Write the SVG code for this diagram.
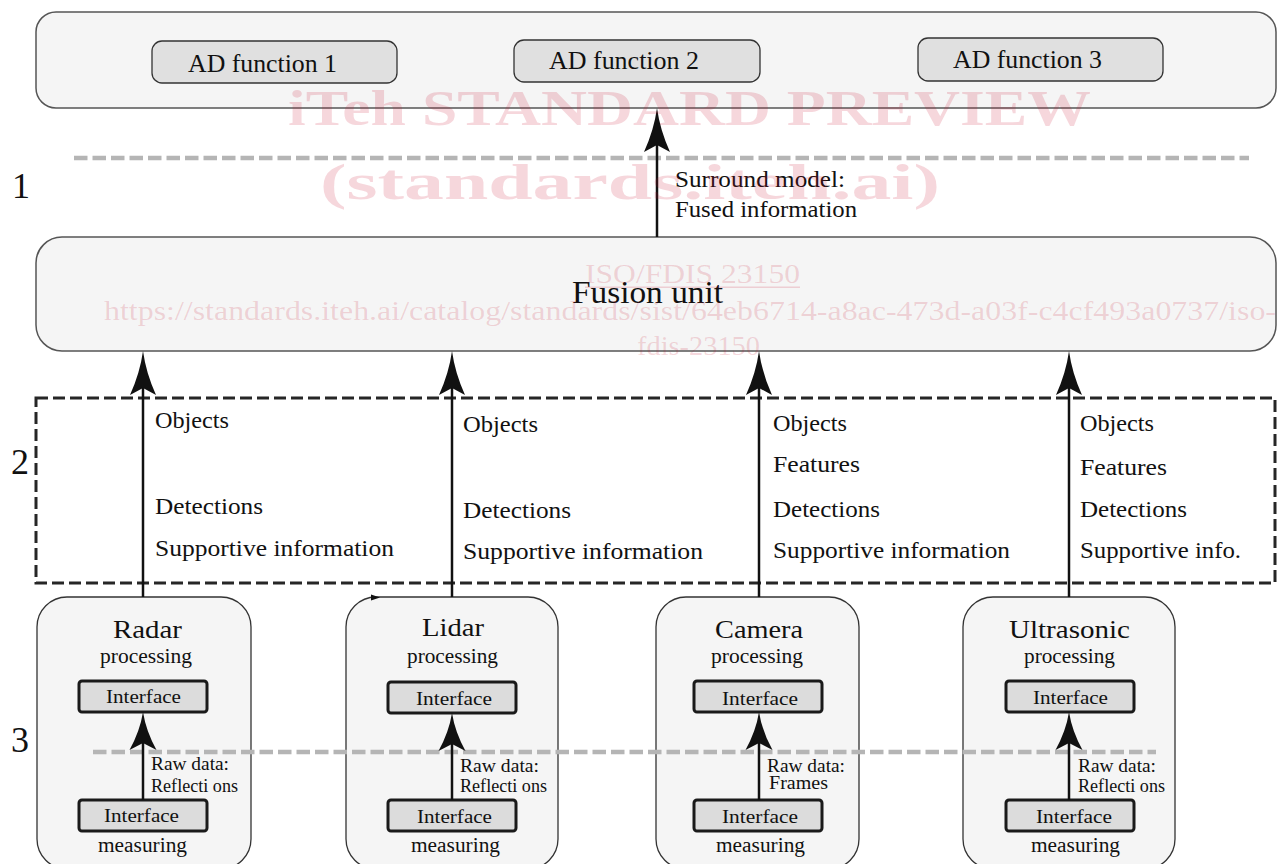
<svg xmlns="http://www.w3.org/2000/svg" xmlns:xlink="http://www.w3.org/1999/xlink" width="1278" height="864" viewBox="0 0 1278 864">
<style>
text{font-family:"Liberation Serif","Times New Roman",serif;fill:#111}
.big{fill:#f5f5f5;stroke:#555;stroke-width:1.5}
.adbox{fill:#e0e0e0;stroke:#333;stroke-width:1.3}
.sensor{fill:#f5f5f5;stroke:#333;stroke-width:1.3}
.ifc{fill:#dcdcdc;stroke:#1a1a1a;stroke-width:3}
.gdash{stroke:#b5b5b5;stroke-width:4.5;stroke-dasharray:13.5 5;fill:none}
.kdash{stroke:#262626;stroke-width:3;stroke-dasharray:12 5;fill:none}
.conn{stroke:#111;stroke-width:2.5;fill:none}
.ah{fill:#111}
.t26{font-size:26px}
.t24{font-size:24px}
.t23{font-size:23px}
.t20{font-size:20px}
.t19{font-size:19px}
.t18{font-size:18px}
.num{font-size:36px}
.wm{font-family:"Liberation Serif","Times New Roman",serif;fill:#c8102e;fill-opacity:0.17}
</style>
<defs>
<path id="ahL" class="ah" d="M0,0 Q-3,22 -13,44 L0,37 L13,44 Q3,22 0,0Z"/>
<path id="ahS" class="ah" d="M0,0 Q-3,19 -13.5,38 L0,31 L13.5,38 Q3,19 0,0Z"/>
</defs>
<rect width="1278" height="864" fill="#fff"/>

<g id="layer-lines">
<line class="gdash" x1="74" y1="158" x2="1249" y2="158"/>
<rect class="kdash" x="36" y="398" width="1239" height="185"/>
<text class="num" x="12" y="198">1</text>
<text class="num" x="11" y="474">2</text>
<text class="num" x="11" y="752">3</text>
</g>

<g id="ad-layer">
<rect class="big" x="36" y="12" width="1240" height="96" rx="20"/>
<g id="ad1"><rect class="adbox" x="152" y="41" width="245" height="42" rx="10"/><text class="t26" x="188" y="72" textLength="149" lengthAdjust="spacingAndGlyphs">AD function 1</text></g>
<g id="ad2"><rect class="adbox" x="514" y="40" width="246" height="42" rx="10"/><text class="t26" x="549" y="69" textLength="150" lengthAdjust="spacingAndGlyphs">AD function 2</text></g>
<g id="ad3"><rect class="adbox" x="918" y="38" width="245" height="43" rx="10"/><text class="t26" x="953" y="68" textLength="149" lengthAdjust="spacingAndGlyphs">AD function 3</text></g>
</g>

<g id="fusion">
<rect class="big" x="36" y="237" width="1240" height="114" rx="26"/>
<text x="572" y="303" font-size="32" textLength="151" lengthAdjust="spacingAndGlyphs">Fusion unit</text>
</g>

<g id="radar">
<rect class="sensor" x="37" y="597" width="214" height="272" rx="30"/>
<text class="t26" x="113" y="638" textLength="69" lengthAdjust="spacingAndGlyphs">Radar</text>
<text class="t20" x="100" y="663" textLength="92" lengthAdjust="spacingAndGlyphs">processing</text>
<rect class="ifc" x="79" y="681" width="128" height="31" rx="3"/>
<text class="t19" x="106" y="703" textLength="75" lengthAdjust="spacingAndGlyphs">Interface</text>
<rect class="ifc" x="79" y="800" width="128" height="31" rx="3"/>
<text class="t19" x="104" y="822" textLength="75" lengthAdjust="spacingAndGlyphs">Interface</text>
<text class="t20" x="98" y="852" textLength="89" lengthAdjust="spacingAndGlyphs">measuring</text>
</g>

<g id="lidar">
<rect class="sensor" x="346" y="597" width="212" height="272" rx="30"/>
<text class="t26" x="422" y="636" textLength="62" lengthAdjust="spacingAndGlyphs">Lidar</text>
<text class="t20" x="407" y="663" textLength="91" lengthAdjust="spacingAndGlyphs">processing</text>
<rect class="ifc" x="388" y="682" width="128" height="31" rx="3"/>
<text class="t19" x="416" y="705" textLength="76" lengthAdjust="spacingAndGlyphs">Interface</text>
<rect class="ifc" x="388" y="800" width="128" height="31" rx="3"/>
<text class="t19" x="417" y="823" textLength="75" lengthAdjust="spacingAndGlyphs">Interface</text>
<text class="t20" x="411" y="852" textLength="89" lengthAdjust="spacingAndGlyphs">measuring</text>
</g>

<g id="camera">
<rect class="sensor" x="656" y="597" width="203" height="272" rx="30"/>
<text class="t26" x="715" y="638" textLength="88" lengthAdjust="spacingAndGlyphs">Camera</text>
<text class="t20" x="711" y="663" textLength="92" lengthAdjust="spacingAndGlyphs">processing</text>
<rect class="ifc" x="694" y="681" width="128" height="31" rx="3"/>
<text class="t19" x="722" y="705" textLength="76" lengthAdjust="spacingAndGlyphs">Interface</text>
<rect class="ifc" x="694" y="800" width="128" height="31" rx="3"/>
<text class="t19" x="722" y="823" textLength="76" lengthAdjust="spacingAndGlyphs">Interface</text>
<text class="t20" x="716" y="852" textLength="89" lengthAdjust="spacingAndGlyphs">measuring</text>
</g>

<g id="ultrasonic">
<rect class="sensor" x="963" y="597" width="212" height="272" rx="30"/>
<text class="t26" x="1009" y="638" textLength="121" lengthAdjust="spacingAndGlyphs">Ultrasonic</text>
<text class="t20" x="1024" y="663" textLength="91" lengthAdjust="spacingAndGlyphs">processing</text>
<rect class="ifc" x="1006" y="681" width="128" height="31" rx="3"/>
<text class="t19" x="1033" y="704" textLength="75" lengthAdjust="spacingAndGlyphs">Interface</text>
<rect class="ifc" x="1006" y="800" width="128" height="31" rx="3"/>
<text class="t19" x="1036" y="823" textLength="76" lengthAdjust="spacingAndGlyphs">Interface</text>
<text class="t20" x="1031" y="852" textLength="89" lengthAdjust="spacingAndGlyphs">measuring</text>
</g>

<g id="connectors">
<line class="gdash" x1="93" y1="752" x2="1156" y2="752"/>
<line class="conn" x1="657" y1="237" x2="657" y2="140"/>
<use xlink:href="#ahL" href="#ahL" transform="translate(657,108)"/>
<line class="conn" x1="143" y1="597" x2="143" y2="383"/>
<use xlink:href="#ahL" href="#ahL" transform="translate(143,351)"/>
<line class="conn" x1="452" y1="597" x2="452" y2="383"/>
<use xlink:href="#ahL" href="#ahL" transform="translate(452,351)"/>
<line class="conn" x1="759" y1="597" x2="759" y2="383"/>
<use xlink:href="#ahL" href="#ahL" transform="translate(759,351)"/>
<line class="conn" x1="1069" y1="597" x2="1069" y2="383"/>
<use xlink:href="#ahL" href="#ahL" transform="translate(1069,351)"/>
<line class="conn" x1="143" y1="800" x2="143" y2="740"/>
<use xlink:href="#ahS" href="#ahS" transform="translate(143,712)"/>
<line class="conn" x1="452" y1="800" x2="452" y2="740"/>
<use xlink:href="#ahS" href="#ahS" transform="translate(452,713)"/>
<line class="conn" x1="759" y1="800" x2="759" y2="740"/>
<use xlink:href="#ahS" href="#ahS" transform="translate(759,712)"/>
<line class="conn" x1="1069" y1="800" x2="1069" y2="740"/>
<use xlink:href="#ahS" href="#ahS" transform="translate(1069,712)"/>
<path class="ah" d="M371,594.5 L380,597.5 L371,600.5 Z"/>
</g>

<g id="labels">
<text class="t23" x="675" y="187" textLength="170" lengthAdjust="spacingAndGlyphs">Surround model:</text>
<text class="t23" x="675" y="217" textLength="182" lengthAdjust="spacingAndGlyphs">Fused information</text>

<text class="t24" x="155" y="428" textLength="74" lengthAdjust="spacingAndGlyphs">Objects</text>
<text class="t24" x="155" y="514" textLength="108" lengthAdjust="spacingAndGlyphs">Detections</text>
<text class="t24" x="155" y="556" textLength="239" lengthAdjust="spacingAndGlyphs">Supportive information</text>

<text class="t24" x="463" y="432" textLength="75" lengthAdjust="spacingAndGlyphs">Objects</text>
<text class="t24" x="463" y="518" textLength="108" lengthAdjust="spacingAndGlyphs">Detections</text>
<text class="t24" x="463" y="559" textLength="240" lengthAdjust="spacingAndGlyphs">Supportive information</text>

<text class="t24" x="773" y="431" textLength="74" lengthAdjust="spacingAndGlyphs">Objects</text>
<text class="t24" x="773" y="472" textLength="87" lengthAdjust="spacingAndGlyphs">Features</text>
<text class="t24" x="773" y="517" textLength="107" lengthAdjust="spacingAndGlyphs">Detections</text>
<text class="t24" x="773" y="558" textLength="237" lengthAdjust="spacingAndGlyphs">Supportive information</text>

<text class="t24" x="1080" y="431" textLength="74" lengthAdjust="spacingAndGlyphs">Objects</text>
<text class="t24" x="1080" y="475" textLength="87" lengthAdjust="spacingAndGlyphs">Features</text>
<text class="t24" x="1080" y="517" textLength="107" lengthAdjust="spacingAndGlyphs">Detections</text>
<text class="t24" x="1080" y="558" textLength="161" lengthAdjust="spacingAndGlyphs">Supportive info.</text>

<text class="t18" x="151" y="770" textLength="78" lengthAdjust="spacingAndGlyphs">Raw data:</text>
<text class="t18" x="151" y="792" textLength="87" lengthAdjust="spacingAndGlyphs">Reflecti ons</text>
<text class="t18" x="460" y="772" textLength="79" lengthAdjust="spacingAndGlyphs">Raw data:</text>
<text class="t18" x="460" y="792" textLength="87" lengthAdjust="spacingAndGlyphs">Reflecti ons</text>
<text class="t18" x="767" y="772" textLength="78" lengthAdjust="spacingAndGlyphs">Raw data:</text>
<text class="t18" x="769" y="789" textLength="59" lengthAdjust="spacingAndGlyphs">Frames</text>
<text class="t18" x="1078" y="772" textLength="78" lengthAdjust="spacingAndGlyphs">Raw data:</text>
<text class="t18" x="1078" y="792" textLength="87" lengthAdjust="spacingAndGlyphs">Reflecti ons</text>
</g>

<g id="watermark">
<text class="wm" x="288" y="125" font-size="50" font-weight="bold" textLength="803" lengthAdjust="spacingAndGlyphs">iTeh STANDARD PREVIEW</text>
<text class="wm" x="320" y="199" font-size="50" font-weight="bold" textLength="620" lengthAdjust="spacingAndGlyphs">(standards.iteh.ai)</text>
<text class="wm" x="585" y="283" font-size="28" textLength="215" lengthAdjust="spacingAndGlyphs">ISO/FDIS 23150</text>
<rect x="585" y="286.5" width="215" height="1.5" fill="#c8102e" fill-opacity="0.17"/>
<text class="wm" x="104" y="320" font-size="28" textLength="1172" lengthAdjust="spacingAndGlyphs">https://standards.iteh.ai/catalog/standards/sist/64eb6714-a8ac-473d-a03f-c4cf493a0737/iso-</text>
<text class="wm" x="637" y="355" font-size="28" textLength="123" lengthAdjust="spacingAndGlyphs">fdis-23150</text>
</g>
</svg>
